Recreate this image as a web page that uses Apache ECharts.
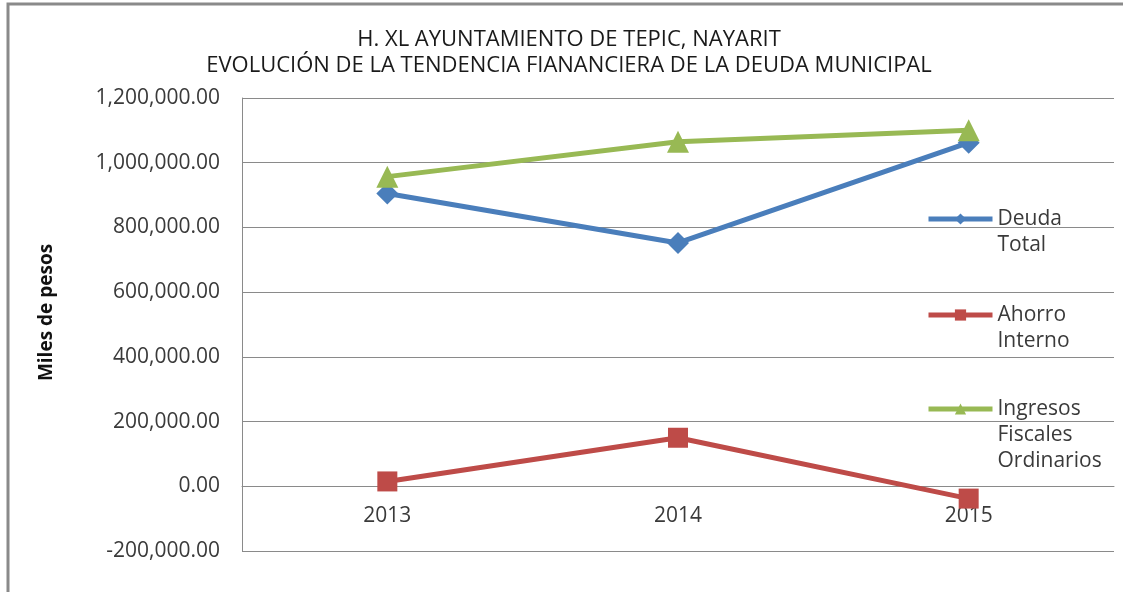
<!DOCTYPE html>
<html><head><meta charset="utf-8">
<script src="https://cdn.jsdelivr.net/npm/echarts@6/dist/echarts.min.js"></script>
<style>html,body{margin:0;padding:0;background:#fff}#c{width:1123px;height:592px}</style>
</head><body><div id="c"></div>
<script>
const years = ['2013', '2014', '2015'];
const deudaTotal = [905000, 752000, 1062000];
const ahorroInterno = [15000, 150000, -38000];
const ingresosFiscales = [957000, 1065000, 1100000];
const seriesNames = ['Deuda\nTotal', 'Ahorro\nInterno', 'Ingresos\nFiscales\nOrdinarios'];
const titleText = 'H. XL AYUNTAMIENTO DE TEPIC, NAYARIT\nEVOLUCIÓN DE LA TENDENCIA FIANANCIERA DE LA DEUDA MUNICIPAL';
const yAxisName = 'Miles de pesos';
const yMin = -200000, yMax = 1200000, yStep = 200000;

const FONT = 'Open Sans';
const fmt = v => v.toLocaleString('en-US', {minimumFractionDigits: 2, maximumFractionDigits: 2});
const LH = 26;
const GRID = {left: 242, right: 9, top: 98, bottom: 41};
const plotH = 592 - GRID.top - GRID.bottom;
const zeroOffset = -plotH * (0 - yMin) / (yMax - yMin);

function legendFor(name, top) {
  return {
    data: [name],
    formatter: n => '\n'.repeat(n.split('\n').length - 1) + n,
    left: 926, top: top, orient: 'vertical', padding: 0,
    itemWidth: 64, itemHeight: 14,
    selectedMode: false,
    lineStyle: {width: 5},
    textStyle: {fontFamily: FONT, fontSize: 21, color: '#3a3a3a', lineHeight: LH}
  };
}
const chart = echarts.init(document.getElementById('c'), null, {renderer: 'canvas'});
chart.setOption({
  animation: false,
  backgroundColor: '#fff',
  title: {
    text: titleText, left: 569, top: 27, textAlign: 'center', padding: 0,
    textStyle: {fontFamily: FONT, fontSize: 22, fontWeight: 'normal', color: '#1a1a1a', lineHeight: 26}
  },
  graphic: [{type: 'rect', shape: {x: 8, y: 4, width: 1130, height: 600}, style: {fill: 'none', stroke: '#8a8a8a', lineWidth: 3}, silent: true}],
  legend: [legendFor(seriesNames[0], 180), legendFor(seriesNames[1], 276), legendFor(seriesNames[2], 344)],
  grid: Object.assign({containLabel: false}, GRID),
  xAxis: {
    type: 'category', data: years, boundaryGap: true,
    offset: zeroOffset,
    axisLine: {onZero: false, lineStyle: {color: '#8a8a8a', width: 1}},
    axisTick: {show: false},
    axisLabel: {fontFamily: FONT, fontSize: 21, color: '#3a3a3a', margin: 19}
  },
  yAxis: {
    type: 'value', min: yMin, max: yMax, interval: yStep,
    name: yAxisName, nameLocation: 'middle', nameGap: 186, nameRotate: 90,
    nameTextStyle: {fontFamily: FONT, fontSize: 19, fontWeight: 'bold', color: '#111', padding: [0, 0, 0, 24]},
    axisLine: {show: true, lineStyle: {color: '#8a8a8a', width: 1}},
    axisTick: {show: false},
    splitLine: {lineStyle: {color: '#8a8a8a', width: 1}},
    axisLabel: {fontFamily: FONT, fontSize: 21, color: '#3a3a3a', margin: 22, formatter: fmt}
  },
  series: [
    {name: seriesNames[0], type: 'line', data: deudaTotal, symbol: 'diamond', symbolSize: 22,
     itemStyle: {color: '#4A7EBB'}, lineStyle: {width: 5, color: '#4A7EBB'}},
    {name: seriesNames[1], type: 'line', data: ahorroInterno, symbol: 'rect', symbolSize: 20,
     itemStyle: {color: '#BE4B48'}, lineStyle: {width: 5, color: '#BE4B48'}},
    {name: seriesNames[2], type: 'line', data: ingresosFiscales, symbol: 'triangle', symbolSize: 22,
     itemStyle: {color: '#98B954'}, lineStyle: {width: 5, color: '#98B954'}}
  ]
});
</script></body></html>
